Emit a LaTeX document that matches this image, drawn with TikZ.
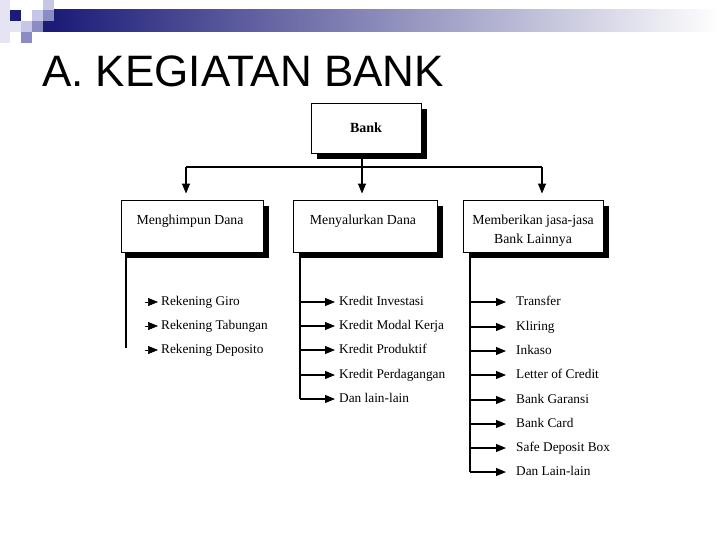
\documentclass[tikz,border=0pt]{standalone}
\usepackage{fontspec}
\setmainfont{Liberation Serif}
\newfontfamily\titlefont{Liberation Sans}
\usetikzlibrary{arrows.meta,shadows}
\definecolor{navy}{RGB}{28,28,120}
\definecolor{lavM}{RGB}{140,140,196}
\definecolor{lavL}{RGB}{198,198,230}
\definecolor{lavVL}{RGB}{228,228,242}
\begin{document}
\begin{tikzpicture}[x=1pt,y=-1pt,
  box/.style={draw=black,line width=0.9pt,fill=white,inner sep=0pt,
    drop shadow={shadow xshift=6pt,shadow yshift=-6pt,fill=black,opacity=1}},
  conn/.style={line width=1.1pt},
  arr/.style={line width=1.1pt,-{Triangle[length=10pt,width=8pt]}},
  item/.style={anchor=west,inner sep=0pt,font=\fontsize{13.3}{15}\selectfont,text height=9pt,text depth=3pt},
  boxtext/.style={inner sep=0pt,align=center,font=\fontsize{13.8}{19}\selectfont}]
\useasboundingbox (0,0) rectangle (720,540);
% header decoration
\fill[lavVL] (0,0) rectangle (10,43);
\fill[lavVL] (10,21) rectangle (21,32);
\fill[navy] (10,10) rectangle (21,21);
\fill[lavL] (21,21) rectangle (32,32);
\fill[lavM] (21,32) rectangle (32,43);
\fill[lavL] (32,10) rectangle (43,21);
\fill[lavM] (32,21) rectangle (43,32);
\fill[lavL] (43,0) rectangle (54,10);
\fill[lavM] (43,10) rectangle (54,21);
\shade[left color=navy,right color=white] (54,10) rectangle (720,32);
\fill[navy] (43,21) rectangle (54.5,32);
% title
\node[anchor=base west,inner sep=0pt,font=\titlefont\fontsize{44}{50}\selectfont] (title) at (42,87) {A. KEGIATAN BANK};
% boxes
\node[box,minimum width=110pt,minimum height=50pt,font=\bfseries\fontsize{14}{16}\selectfont] (bank) at (366,128) {Bank};
\node[box,minimum width=142pt,minimum height=52pt] (b1) at (192,226) {};
\node[box,minimum width=144pt,minimum height=52pt] (b2) at (365,226) {};
\node[box,minimum width=140pt,minimum height=52pt] (b3) at (533,226) {};
\node[boxtext] (t1) at (190,221) {Menghimpun Dana};
\node[boxtext] (t2) at (363,221) {Menyalurkan Dana};
\node[boxtext] (t3) at (533,230.5) {Memberikan jasa-jasa\\Bank Lainnya};
% tree connectors
\coordinate (j1) at (186,167);
\coordinate (j2) at (362,167);
\coordinate (j3) at (542,167);
\draw[conn] (bank.south -| j2) -- (j2);
\draw[conn] (j1) -- (j3);
\draw[arr,shorten >=6pt] (j1) -- (j1 |- b1.north);
\draw[arr,shorten >=6pt] (j2) -- (j2 |- b2.north);
\draw[arr,shorten >=6pt] (j3) -- (j3 |- b3.north);
% list 1
\coordinate (l1) at (126,252);
\node[item] (i11) at (161,302) {Rekening Giro};
\node[item] (i12) at (161,326) {Rekening Tabungan};
\node[item] (i13) at (161,350) {Rekening Deposito};
\draw[conn] (l1) -- (126,348);
\foreach \n in {i11,i12,i13}
  \draw[arr,line width=0.6pt,shorten >=3pt] ([xshift=-16pt]\n.west) -- (\n.west);
% list 2
\coordinate (l2) at (300,252);
\node[item] (i21) at (339,302) {Kredit Investasi};
\node[item] (i22) at (339,326) {Kredit Modal Kerja};
\node[item] (i23) at (339,350) {Kredit Produktif};
\node[item] (i24) at (339,375) {Kredit Perdagangan};
\node[item] (i25) at (339,399) {Dan lain-lain};
\draw[conn] (l2) -- (l2 |- i25.west);
\foreach \n in {i21,i22,i23,i24,i25}
  \draw[arr,shorten >=4pt] (l2 |- \n.west) -- (\n.west);
% list 3
\coordinate (l3) at (470,252);
\node[item] (i31) at (516,302) {Transfer};
\node[item] (i32) at (516,327) {Kliring};
\node[item] (i33) at (516,351) {Inkaso};
\node[item] (i34) at (516,375) {Letter of Credit};
\node[item] (i35) at (516,400) {Bank Garansi};
\node[item] (i36) at (516,424) {Bank Card};
\node[item] (i37) at (516,448) {Safe Deposit Box};
\node[item] (i38) at (516,472) {Dan Lain-lain};
\draw[conn] (l3) -- (l3 |- i38.west);
\foreach \n in {i31,i32,i33,i34,i35,i36,i37,i38}
  \draw[arr,shorten >=10pt] (l3 |- \n.west) -- (\n.west);
\end{tikzpicture}
\end{document}
